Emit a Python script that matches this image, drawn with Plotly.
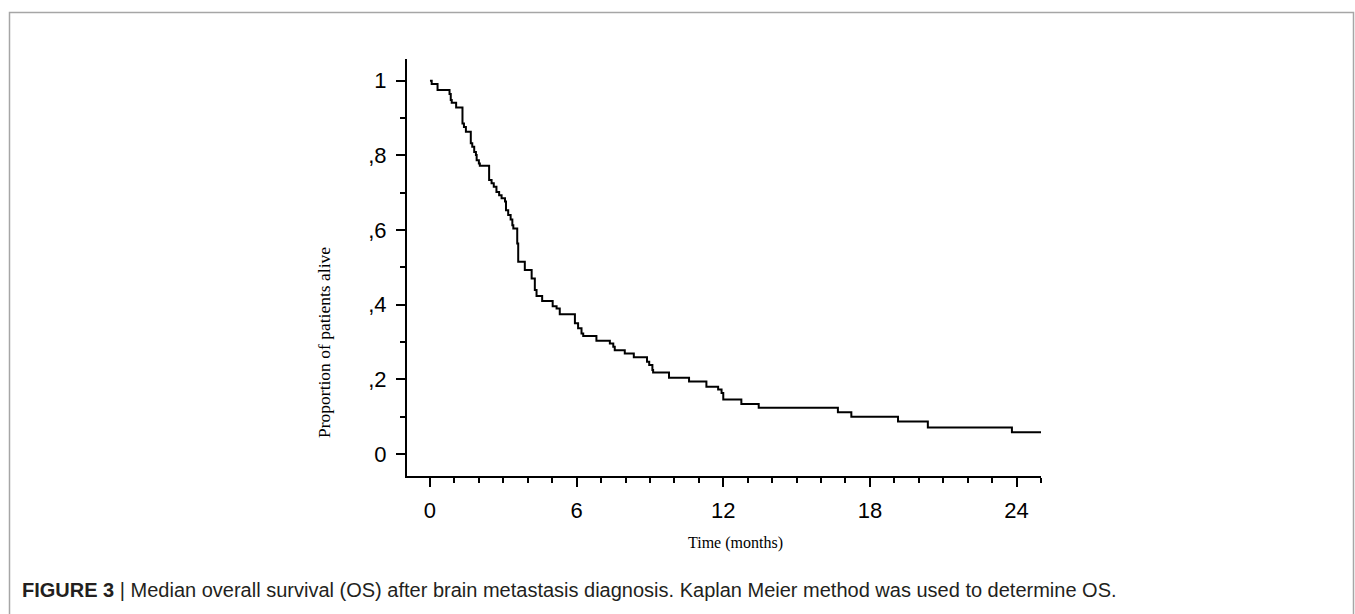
import plotly.graph_objects as go

# Kaplan-Meier step curve (time in months, proportion alive after each step)
times = [0, 0.07, 0.31, 0.80, 0.85, 0.89, 1.07, 1.33, 1.39, 1.47, 1.67, 1.73, 1.81, 1.88,
         1.91, 2.00, 2.04, 2.42, 2.52, 2.61, 2.72, 2.83, 2.93, 3.07, 3.11, 3.20, 3.30,
         3.37, 3.41, 3.57, 3.61, 3.88, 4.16, 4.29, 4.36, 4.59, 5.02, 5.18, 5.31, 5.93,
         6.06, 6.20, 6.27, 6.81, 7.36, 7.50, 7.56, 7.97, 8.34, 8.88, 8.97, 9.10, 9.13,
         9.78, 10.60, 11.31, 11.79, 11.93, 12.00, 12.74, 13.45, 16.69, 17.24, 19.15,
         20.37, 23.81, 25.0]
survival = [1.0, 0.991, 0.975, 0.964, 0.948, 0.941, 0.928, 0.885, 0.876, 0.863, 0.832, 0.823,
            0.809, 0.801, 0.787, 0.778, 0.772, 0.734, 0.725, 0.716, 0.702, 0.693, 0.685,
            0.676, 0.653, 0.640, 0.628, 0.613, 0.604, 0.564, 0.515, 0.493, 0.470, 0.439,
            0.423, 0.410, 0.396, 0.390, 0.374, 0.350, 0.337, 0.323, 0.316, 0.303, 0.296,
            0.287, 0.278, 0.269, 0.259, 0.247, 0.238, 0.225, 0.218, 0.204, 0.194, 0.180,
            0.173, 0.163, 0.146, 0.134, 0.124, 0.112, 0.100, 0.087, 0.071, 0.058, 0.058]

x_tickvals = [0, 6, 12, 18, 24]
x_ticktext = ["0", "6", "12", "18", "24"]
y_tickvals = [0, 0.2, 0.4, 0.6, 0.8, 1.0]
y_ticktext = ["0", ",2", ",4", ",6", ",8", "1"]

x_title = "Time (months)"
y_title = "Proportion of patients alive"
caption_bold = "FIGURE 3"
caption_rest = " | Median overall survival (OS) after brain metastasis diagnosis. Kaplan Meier method was used to determine OS."

W, H = 1355, 614
L, R, T, B = 407, 1041, 59, 476
pw, ph = R - L, B - T

def px_x(p):
    return (p - L) / pw

def px_y(p):
    return (B - p) / ph

fig = go.Figure()
fig.add_trace(go.Scatter(
    x=times, y=survival, mode="lines", line=dict(shape="hv", color="black", width=2),
    showlegend=False, hoverinfo="x+y"))

tickfont = dict(family="Liberation Sans, Arial, sans-serif", size=22, color="black")

fig.update_layout(
    width=W, height=H, autosize=False,
    margin=dict(l=L, r=W - R, t=T, b=H - B, pad=0),
    paper_bgcolor="white", plot_bgcolor="white",
    xaxis=dict(range=[-0.94, 25.0], showgrid=False, zeroline=False,
               showline=True, linecolor="black", linewidth=2,
               ticks="outside", ticklen=9, tickwidth=1.5, tickcolor="black",
               tickvals=x_tickvals, ticktext=x_ticktext, tickfont=tickfont,
               ticklabelstandoff=5,
               minor=dict(ticks="outside", dtick=1, tick0=0, ticklen=5,
                          tickwidth=1.5, tickcolor="black", showgrid=False)),
    yaxis=dict(range=[-0.059, 1.058], showgrid=False, zeroline=False,
               showline=True, linecolor="black", linewidth=2,
               ticks="outside", ticklen=9, tickwidth=1.5, tickcolor="black",
               tickvals=y_tickvals, ticktext=y_ticktext, tickfont=tickfont,
               ticklabelstandoff=5,
               minor=dict(ticks="outside", dtick=0.1, tick0=0, ticklen=5,
                          tickwidth=1.5, tickcolor="black", showgrid=False)),
    annotations=[
        dict(text=x_title, xref="paper", yref="paper", x=px_x(735), y=px_y(543),
             xanchor="center", yanchor="middle", showarrow=False,
             font=dict(family="Liberation Serif, Times New Roman, serif", size=16, color="black")),
        dict(text=y_title, xref="paper", yref="paper", x=px_x(324), y=px_y(343),
             xanchor="center", yanchor="middle", showarrow=False, textangle=-90,
             font=dict(family="Liberation Serif, Times New Roman, serif", size=17.5, color="black")),
        dict(text="<b>" + caption_bold + "</b>" + caption_rest, xref="paper", yref="paper",
             x=px_x(20), y=px_y(590), xanchor="left", yanchor="middle", showarrow=False,
             font=dict(family="Liberation Sans, Arial, sans-serif", size=20, color="#231f20")),
    ],
    shapes=[
        dict(type="path", xref="paper", yref="paper",
             path="M {a},{b} L {a},{c} L {d},{c} L {d},{b}".format(
                 a=px_x(9.5), b=px_y(640), c=px_y(12.5), d=px_x(1353.5)),
             line=dict(color="#a6a6a6", width=1.5)),
    ],
)

fig.write_html("out.html", config={"displayModeBar": False},
               post_script="document.body.style.margin='0';document.body.style.padding='0';"
                           "document.documentElement.style.overflow='hidden';")
